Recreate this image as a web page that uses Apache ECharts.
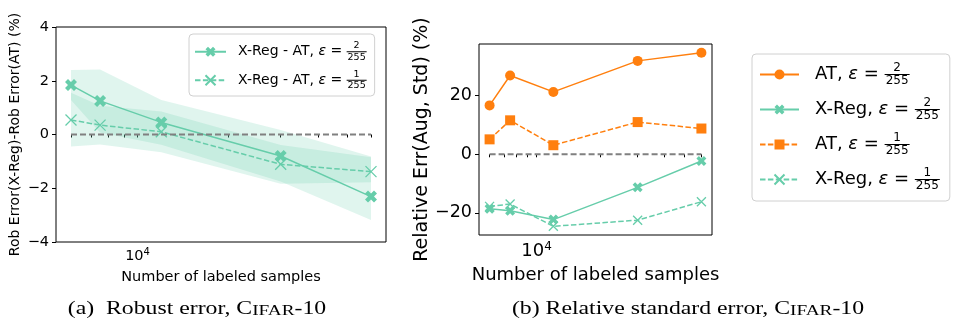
<!DOCTYPE html>
<html>
<head>
<meta charset="utf-8">
<script src="https://cdn.jsdelivr.net/npm/echarts@6/dist/echarts.min.js"></script>
<style>
  html, body { margin: 0; padding: 0; background: #fff; }
  #chart { width: 953px; height: 322px; }
</style>
</head>
<body>
<div id="chart"></div>
<script>
// number of labeled samples, shared by both panels
const samples = [6000, 7500, 12000, 30000, 60000];

// (a) robust error of X-Reg minus robust error of AT, with spread
const robDiff2 = [1.84, 1.25, 0.45, -0.80, -2.31];
const robDiff2Low = [1.28, 0.07, -0.38, -1.75, -3.18];
const robDiff2High = [2.40, 2.42, 1.28, 0.17, -0.82];
const robDiff1 = [0.54, 0.35, 0.10, -1.11, -1.38];
const robDiff1Low = [-0.45, -0.37, -0.66, -1.83, -1.78];
const robDiff1High = [1.55, 1.07, 0.86, -0.39, -0.85];

// (b) relative standard error
const relAT2 = [16.7, 26.9, 21.3, 31.9, 34.7];
const relXReg2 = [-18.6, -19.3, -22.3, -11.3, -2.3];
const relAT1 = [5.1, 11.6, 3.1, 11.0, 8.8];
const relXReg1 = [-17.8, -17.0, -24.6, -22.5, -16.2];

// ticks
const xMajorTicks = [10000];
const xMinorTicks = [6000, 7000, 8000, 9000, 20000, 30000, 40000, 50000, 60000];
const leftYTicks = [-4, -2, 0, 2, 4];
const rightYTicks = [-20, 0, 20];

const leftNames = ['X-Reg - AT, ε = 2/255', 'X-Reg - AT, ε = 1/255'];
const rightNames = ['AT, ε = 2/255', 'X-Reg, ε = 2/255', 'AT, ε = 1/255', 'X-Reg, ε = 1/255'];

const teal = '#66cdaa';
const orange = '#ff7f0e';
const font = 'DejaVu Sans';
const plusX = 'path://M0,2.5L2.5,0L5,2.5L7.5,0L10,2.5L7.5,5L10,7.5L7.5,10L5,7.5L2.5,10L0,7.5L2.5,5Z';
const thinX = 'path://M0,0L10,10M10,0L0,10';

// matplotlib style 5% margin on a log axis
function logRange(vals) {
    const a = Math.log10(Math.min(...vals)), b = Math.log10(Math.max(...vals));
    const m = (b - a) * 0.05;
    return [Math.pow(10, a - m), Math.pow(10, b + m)];
}
const xr = logRange(samples);
const allRel = relAT2.concat(relXReg2, relAT1, relXReg1);
const rMin = Math.min(...allRel), rMax = Math.max(...allRel);
const rPad = (rMax - rMin) * 0.05;

function pairs(ys) { return samples.map((x, i) => [x, ys[i]]); }
function minus(v) { return String(v).replace('-', '\u2212'); }

// "name, ε = a/b" -> three line rich text with a stacked fraction
function fracLabel(name) {
    const parts = name.split(', ε = ');
    const fr = parts[1].split('/');
    return '{num|' + fr[0] + '}\n{pre|' + parts[0] + ', }{eps|ε}{txt| = }{bar|}\n{den|' + fr[1] + '}';
}
function fracRich(main, small, lh, barW, gapL) {
    const dw = 0.636 * small;
    return {
        num: {fontSize: small, lineHeight: lh, align: 'right', padding: [0, (barW - dw) / 2, 0, 0], color: '#000', fontFamily: font},
        den: {fontSize: small, lineHeight: lh, align: 'right', padding: [0, (barW - 3 * dw) / 2, 0, 0], color: '#000', fontFamily: font},
        pre: {fontSize: main, lineHeight: 2, padding: [0, 0, 0, gapL], color: '#000', fontFamily: font},
        txt: {fontSize: main, lineHeight: 2, color: '#000', fontFamily: font},
        eps: {fontSize: main, lineHeight: 2, fontStyle: 'italic', color: '#000', fontFamily: font},
        bar: {width: barW, height: 1, lineHeight: 2, backgroundColor: '#000'}
    };
}

function band(low, high, xi) {
    return {
        type: 'custom', xAxisIndex: xi, yAxisIndex: xi, silent: true, z: 1,
        data: samples.map((x, i) => [x, low[i], high[i]]),
        encode: {x: 0, y: [1, 2]},
        renderItem: function (params, api) {
            if (params.dataIndex !== 0) return;
            const pts = [];
            for (let i = 0; i < samples.length; i++) pts.push(api.coord([samples[i], high[i]]));
            for (let i = samples.length - 1; i >= 0; i--) pts.push(api.coord([samples[i], low[i]]));
            return {type: 'polygon', shape: {points: pts}, style: {fill: 'rgba(102,205,170,0.2)'}};
        }
    };
}

function line(name, ys, xi, color, symbol, size, dashed, hollow) {
    return {
        type: 'line', name: name, xAxisIndex: xi, yAxisIndex: xi, z: 3,
        data: pairs(ys), symbol: symbol, symbolSize: size,
        lineStyle: {color: color, width: 1.5, type: dashed ? [5.5, 2.4] : 'solid'},
        itemStyle: hollow ? {color: 'rgba(0,0,0,0)', borderColor: color, borderWidth: 1.3} : {color: color}
    };
}

function zeroLine(xi) {
    return {
        type: 'line', xAxisIndex: xi, yAxisIndex: xi, z: 4, silent: true,
        data: pairs(samples.map(() => 0)), symbol: 'none',
        lineStyle: {color: '#808080', width: 2, type: [6, 3]}
    };
}

function xAxis(gi, fs, sup, pad, gap) {
    return {
        type: 'log', gridIndex: gi, min: xr[0], max: xr[1],
        name: 'Number of labeled samples', nameLocation: 'middle', nameGap: gap,
        nameTextStyle: {fontSize: fs, color: '#000', fontFamily: font},
        axisLine: {show: false},
        splitLine: {show: false},
        axisTick: {customValues: xMinorTicks.concat(xMajorTicks), length: 3, lineStyle: {color: '#000'}},
        axisLabel: {
            customValues: xMajorTicks, margin: 6,
            formatter: v => '{b|10}{s|' + Math.round(Math.log10(v)) + '}',
            rich: {
                b: {fontSize: fs, lineHeight: fs + 2, color: '#000', fontFamily: font},
                s: {fontSize: sup, lineHeight: sup, padding: [0, 0, pad, 0], color: '#000', fontFamily: font}
            }
        }
    };
}

const capRich = {
    n: {fontSize: 19, fontFamily: 'Liberation Serif', color: '#000'},
    sc: {fontSize: 15.4, fontFamily: 'Liberation Serif', color: '#000', padding: [2, 0, 0, 0]}
};

const chart = echarts.init(document.getElementById('chart'));
chart.setOption({
    animation: false,
    backgroundColor: '#fff',
    grid: [
        {left: 56, top: 27, width: 330, height: 215, show: true, borderColor: '#000', borderWidth: 1},
        {left: 479, top: 44, width: 233, height: 191, show: true, borderColor: '#000', borderWidth: 1}
    ],
    xAxis: [xAxis(0, 14.5, 10, 7, 23), xAxis(1, 18, 12, 9, 27)],
    yAxis: [
        {
            type: 'value', gridIndex: 0, min: -4, max: 4, interval: 2,
            name: 'Rob Error(X-Reg)-Rob Error(AT) (%)', nameLocation: 'middle', nameGap: 34,
            nameTextStyle: {fontSize: 14, color: '#000', fontFamily: font},
            axisLine: {show: false}, splitLine: {show: false},
            axisTick: {customValues: leftYTicks, length: 4, lineStyle: {color: '#000'}},
            axisLabel: {customValues: leftYTicks, margin: 7, fontSize: 14.5, color: '#000', fontFamily: font, formatter: minus}
        },
        {
            type: 'value', gridIndex: 1, min: rMin - rPad, max: rMax + rPad,
            name: 'Relative Err(Aug, Std) (%)', nameLocation: 'middle', nameGap: 47,
            nameTextStyle: {fontSize: 19, color: '#000', fontFamily: font},
            axisLine: {show: false}, splitLine: {show: false},
            axisTick: {customValues: rightYTicks, length: 4, lineStyle: {color: '#000'}},
            axisLabel: {customValues: rightYTicks, margin: 7, fontSize: 17.5, color: '#000', fontFamily: font, formatter: minus}
        }
    ],
    legend: [
        {
            data: leftNames, orient: 'vertical', left: 189, top: 34,
            itemWidth: 31, itemHeight: 12.5, itemGap: 7, padding: [7, 8, 5, 5],
            backgroundColor: 'rgba(255,255,255,0.8)', borderColor: '#d0d0d0', borderWidth: 1, borderRadius: 4,
            selectedMode: false, formatter: fracLabel,
            textStyle: {color: '#000', fontFamily: font, fontSize: 14, rich: fracRich(14, 9.5, 9.5, 20, 7)}
        },
        {
            data: rightNames, orient: 'vertical', left: 752, top: 54,
            itemWidth: 39, itemHeight: 12.5, itemGap: 10, padding: [8, 10, 9, 7],
            backgroundColor: 'rgba(255,255,255,0.8)', borderColor: '#d0d0d0', borderWidth: 1, borderRadius: 4,
            selectedMode: false, formatter: fracLabel,
            textStyle: {color: '#000', fontFamily: font, fontSize: 18, rich: fracRich(18, 12, 11, 25, 11)}
        }
    ],
    graphic: [
        {type: 'text', x: 197, y: 309.5, scaleX: 1.25, style: {
            text: '{n|(a)  Robust error, C}{sc|IFAR}{n|-10}', rich: capRich,
            align: 'center', verticalAlign: 'middle', textAlign: 'center', textVerticalAlign: 'middle'}},
        {type: 'text', x: 688, y: 309.5, scaleX: 1.25, style: {
            text: '{n|(b) Relative standard error, C}{sc|IFAR}{n|-10}', rich: capRich,
            align: 'center', verticalAlign: 'middle', textAlign: 'center', textVerticalAlign: 'middle'}}
    ],
    series: [
        band(robDiff2Low, robDiff2High, 0),
        band(robDiff1Low, robDiff1High, 0),
        line(leftNames[0], robDiff2, 0, teal, plusX, 12, false, false),
        line(leftNames[1], robDiff1, 0, teal, thinX, 11, true, true),
        zeroLine(0),
        line(rightNames[0], relAT2, 1, orange, 'circle', 10, false, false),
        line(rightNames[1], relXReg2, 1, teal, plusX, 10, false, false),
        line(rightNames[2], relAT1, 1, orange, 'rect', 10, true, false),
        line(rightNames[3], relXReg1, 1, teal, thinX, 9, true, true),
        zeroLine(1)
    ]
});
</script>
</body>
</html>
